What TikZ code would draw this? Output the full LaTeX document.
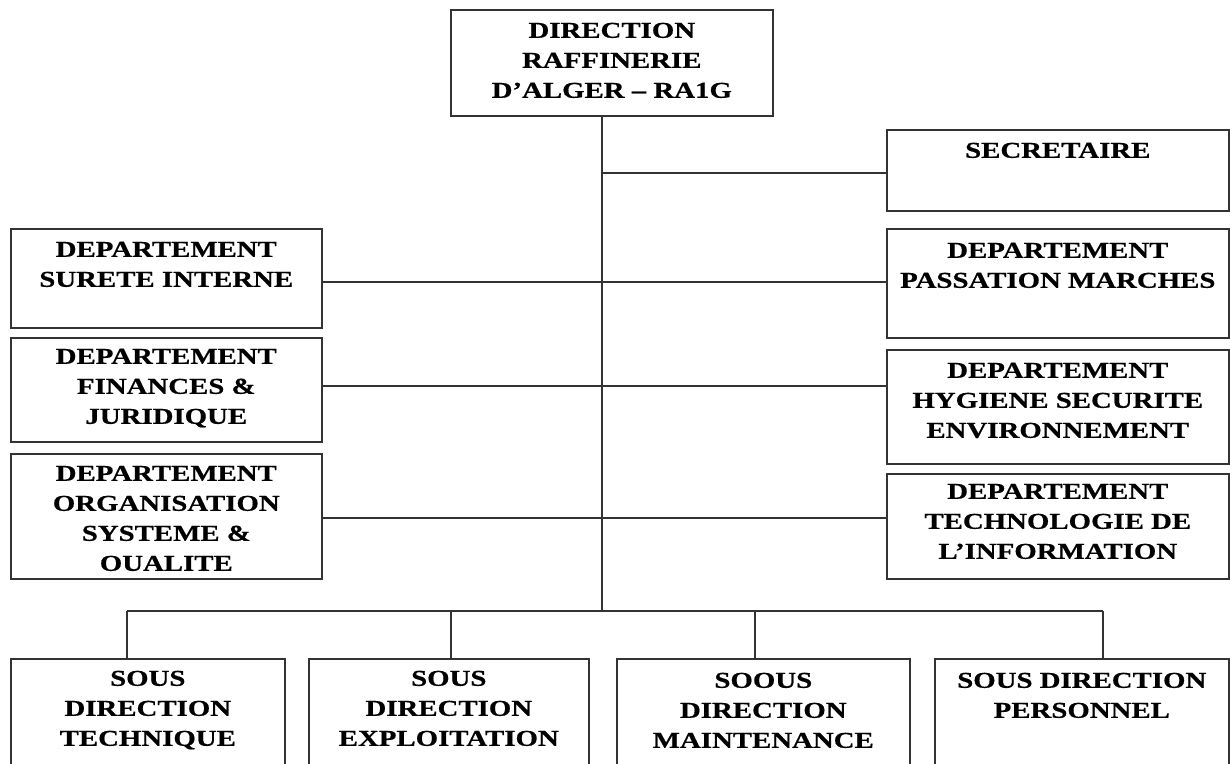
\documentclass[tikz,border=0pt]{standalone}
\usepackage{fontspec}
\newfontfamily\boxfont{Liberation Serif}[FakeStretch=1.27,FakeBold=0.6]
\newcommand{\boxtxt}[4]{\begin{minipage}[t][#2pt][t]{#1pt}\centering\rule{0pt}{#3pt}#4\end{minipage}}
\tikzset{
  orgbox/.style={draw=black!80, line width=1.6pt, inner sep=0pt, anchor=north west,
    font=\boxfont\bfseries\fontsize{22.7pt}{30pt}\selectfont, text=black},
  link/.style={draw=black!80, line width=1.6pt}
}
\begin{document}
\begin{tikzpicture}[x=1pt,y=-1pt]
\useasboundingbox[fill=white] (0,0) rectangle (1230,763);
% boxes
\node[orgbox] (top) at (450,9) {\boxtxt{322}{106}{28}{DIRECTION\\RAFFINERIE\\D’ALGER – RA1G}};
\node[orgbox] (sec) at (886,129) {\boxtxt{342}{81}{28}{SECRETAIRE}};
\node[orgbox] (sur) at (10,228) {\boxtxt{311}{99}{28}{DEPARTEMENT\\SURETE INTERNE}};
\node[orgbox] (pas) at (886,228) {\boxtxt{342}{109}{29}{DEPARTEMENT\\PASSATION MARCHES}};
\node[orgbox] (fin) at (10,337) {\boxtxt{311}{104}{26}{DEPARTEMENT\\FINANCES \&\\JURIDIQUE}};
\node[orgbox] (hyg) at (886,349) {\boxtxt{342}{114}{28}{DEPARTEMENT\\HYGIENE SECURITE\\ENVIRONNEMENT}};
\node[orgbox] (org) at (10,453) {\boxtxt{311}{125}{27}{DEPARTEMENT\\ORGANISATION\\SYSTEME \&\\OUALITE}};
\node[orgbox] (tec) at (886,473) {\boxtxt{342}{105}{25}{DEPARTEMENT\\TECHNOLOGIE DE\\L’INFORMATION}};
\node[orgbox] (sd1) at (10,658) {\boxtxt{274}{120}{27}{SOUS\\DIRECTION\\TECHNIQUE}};
\node[orgbox] (sd2) at (308,658) {\boxtxt{280}{120}{27}{SOUS\\DIRECTION\\EXPLOITATION}};
\node[orgbox] (sd3) at (616,658) {\boxtxt{293}{120}{29}{SOOUS\\DIRECTION\\MAINTENANCE}};
\node[orgbox] (sd4) at (934,658) {\boxtxt{294}{120}{29}{SOUS DIRECTION\\PERSONNEL}};
% junction coordinates
\coordinate (tb) at (602,611);
\coordinate (d1) at (127,611);
\coordinate (d2) at (451,611);
\coordinate (d3) at (755,611);
\coordinate (d4) at (1103,611);
% trunk
\draw[link] (top.south -| tb) -- (tb);
% side branches
\draw[link] ([yshift=-2.5pt]sec.west) -- ([yshift=-2.5pt]sec.west -| tb);
\draw[link] ([yshift=-3.5pt]sur.east) -- ([yshift=-3.5pt]sur.east -| pas.west);
\draw[link] ([yshift=4pt]fin.east) -- ([yshift=4pt]fin.east -| hyg.west);
\draw[link] ([yshift=-1.5pt]org.east) -- ([yshift=-1.5pt]org.east -| tec.west);
% bus and drops
\draw[link] (d1) -- (d4);
\draw[link] (d1) -- (d1 |- sd1.north);
\draw[link] (d2) -- (d2 |- sd2.north);
\draw[link] (d3) -- (d3 |- sd3.north);
\draw[link] (d4) -- (d4 |- sd4.north);
\end{tikzpicture}
\end{document}
